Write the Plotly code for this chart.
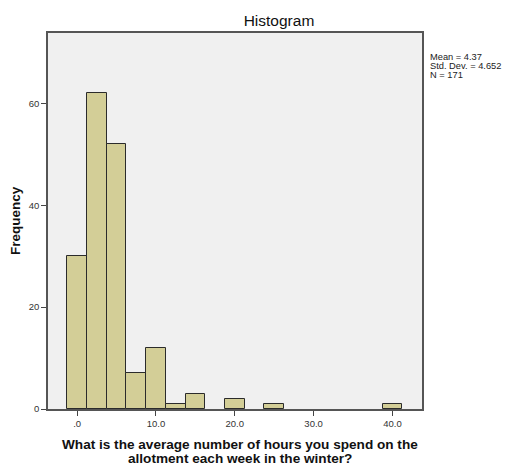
import plotly.graph_objects as go

bin_centers = [0.0, 2.5, 5.0, 7.5, 10.0, 12.5, 15.0, 20.0, 25.0, 40.0]
counts = [30, 62, 52, 7, 12, 1, 3, 2, 1, 1]
bin_width = 2.5
x_ticks = [0, 10, 20, 30, 40]
x_tick_labels = [".0", "10.0", "20.0", "30.0", "40.0"]
y_ticks = [0, 20, 40, 60]
stats_lines = ["Mean = 4.37", "Std. Dev. = 4.652", "N = 171"]
x_title_lines = ["What is the average number of hours you spend on the",
                 "allotment each week in the winter?"]

W, H = 505, 468
L, R, T, B = 48, 83, 33, 59
fig = go.Figure()
fig.add_trace(go.Bar(
    x=bin_centers, y=counts, width=[bin_width] * len(counts),
    marker=dict(color="#D3CE97", line=dict(color="#2b2b2b", width=1)),
    showlegend=False,
))

font = "Liberation Sans, Arial, sans-serif"
fig.update_layout(
    width=W, height=H,
    margin=dict(l=L, r=R, t=T, b=B, autoexpand=False),
    paper_bgcolor="white", plot_bgcolor="#F0F0F0",
    bargap=0,
    font=dict(family=font, size=10, color="#222"),
    title=dict(text="Histogram", x=279 / W, xref="container", xanchor="center",
               y=1 - 20.5 / H, yref="container", yanchor="middle",
               font=dict(size=15.5, color="#111", family=font)),
)
fig.update_xaxes(
    range=[-3.7, 43.75], tickvals=x_ticks, ticktext=x_tick_labels,
    ticks="outside", ticklen=5, tickcolor="#444", showgrid=False, zeroline=False,
    showline=True, mirror=True, linecolor="#555", linewidth=1.5, automargin=False,
    tickfont=dict(size=9.5, color="#333"),
)
fig.update_yaxes(
    range=[0, 73.8], tickvals=y_ticks,
    ticks="outside", ticklen=5, tickcolor="#444", showgrid=False, zeroline=False,
    showline=True, mirror=True, linecolor="#555", linewidth=1.5, automargin=False,
    tickfont=dict(size=9.5, color="#333"),
)
# y-axis title
fig.add_annotation(
    text="<b>Frequency</b>", xref="paper", yref="paper", x=0, xshift=15 - L,
    xanchor="center", y=0.5, yanchor="middle", textangle=-90, showarrow=False,
    font=dict(size=13.5, color="#111"),
)
# x-axis title (two tightly spaced lines)
plot_h = H - T - B
plot_w = W - L - R
for i, line in enumerate(x_title_lines):
    fig.add_annotation(
        text="<b>" + line + "</b>", xref="paper", yref="paper",
        x=(239.5 - L) / plot_w, xanchor="center",
        y=-(444.5 + i * 13.6 - (H - B)) / plot_h, yanchor="middle", showarrow=False,
        font=dict(size=13.6, color="#111"),
    )
for i, line in enumerate(stats_lines):
    fig.add_annotation(
        text=line, xref="paper", yref="paper", x=1.0, xshift=6, xanchor="left",
        y=1 - (57.5 - T + i * 8.5) / plot_h, yanchor="middle", showarrow=False,
        font=dict(size=9.3, color="#222"),
    )

fig.write_html("out.html", config={"displayModeBar": False},
               post_script="document.body.style.margin='0';document.body.style.overflow='hidden';")
